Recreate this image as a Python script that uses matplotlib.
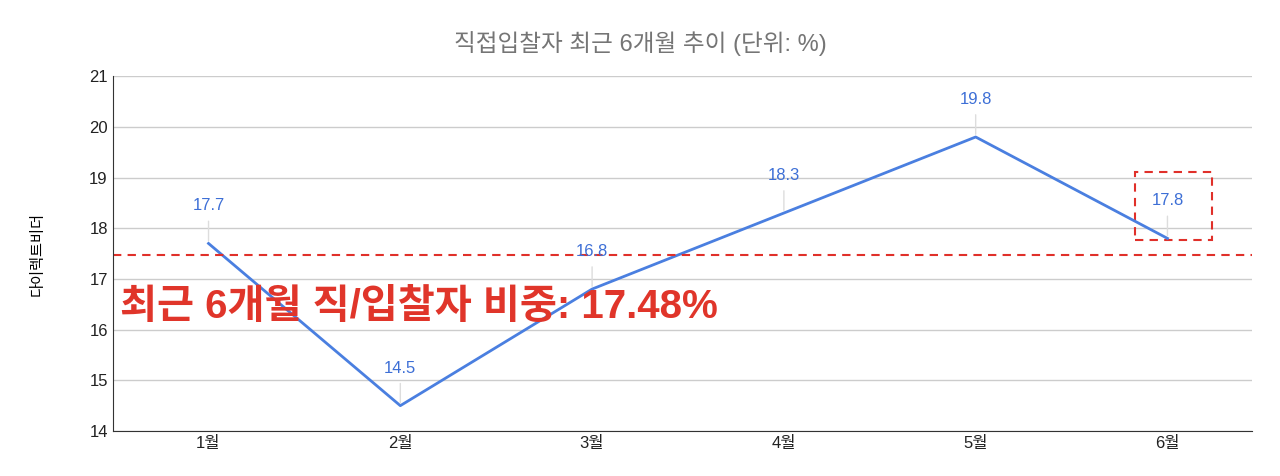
import matplotlib
matplotlib.use("Agg")
import matplotlib.pyplot as plt
from matplotlib.patches import Rectangle

plt.rcParams['font.family'] = ['Liberation Sans', 'Noto Sans CJK KR', 'DejaVu Sans']

months = ["1월", "2월", "3월", "4월", "5월", "6월"]
values = [17.7, 14.5, 16.8, 18.3, 19.8, 17.8]
avg = 17.48

fig = plt.figure(figsize=(12.8, 4.76), dpi=100)
ax = fig.add_axes([0.088, 0.0945, 0.89, 0.7455])
x = list(range(len(months)))
ax.plot(x, values, color="#4a7fe0", lw=2)
for xi, v in zip(x, values):
    ax.annotate("", xy=(xi, v), xytext=(0, 18), textcoords="offset points",
                xycoords="data", arrowprops=dict(arrowstyle="-", color="#dddddd", lw=1))
    ax.annotate(f"{v}", (xi, v), xytext=(0, 27), textcoords="offset points",
                ha="center", va="center", color="#3d6fd6", fontsize=12)

ax.axhline(avg, color="#e0302a", ls=(0, (4, 3)), lw=1.5)
ax.add_patch(Rectangle((4.83, 17.77), 0.4, 1.33, fill=False, ec="#e0302a",
                       ls=(0, (4, 3)), lw=1.5))
ax.text(-0.46, 16.45, "최근 6개월 직/입찰자 비중: 17.48%", color="#e0352a",
        fontsize=29, fontweight="bold", va="center", ha="left")

ax.set_xlim(-0.5, 5.44)
ax.set_ylim(14, 21)
ax.set_yticks(range(14, 22))
ax.set_xticks(x)
ax.set_xticklabels(months)
ax.tick_params(length=0, labelsize=12, colors="#222222")
ax.grid(axis="y", color="#cccccc", lw=1)
ax.set_axisbelow(True)
for s in ["top", "right"]:
    ax.spines[s].set_visible(False)
ax.spines["left"].set_color("#333333")
ax.spines["bottom"].set_color("#333333")
ax.set_ylabel("다이렉트비더", fontsize=11, labelpad=32)
fig.suptitle("직접입찰자 최근 6개월 추이 (단위: %)", y=0.935, fontsize=17, color="#757575")
fig.savefig("out.png", dpi=100)
